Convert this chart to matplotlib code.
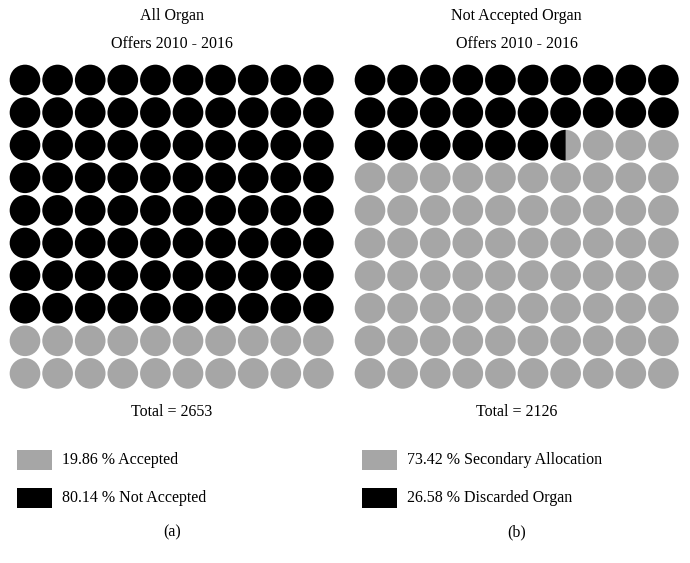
# Waffle charts: organ offers 2010 - 2016
import numpy as np
import matplotlib.pyplot as plt
from matplotlib.patches import Circle, Wedge, Rectangle

plt.rcParams['font.family'] = ['Liberation Serif', 'DejaVu Serif']

# ── Data ─────────────────────────────────────
titles = ["All Organ\nOffers 2010 - 2016", "Not Accepted Organ\nOffers 2010 - 2016"]
totals = [2653, 2126]
panel_tags = ["(a)", "(b)"]
black_pct = [80.14, 26.58]
gray_pct = [19.86, 73.42]
gray_labels = ["Accepted", "Secondary Allocation"]
black_labels = ["Not Accepted", "Discarded Organ"]

GRAY = "#a6a6a6"
BLACK = "#000000"
NROWS, NCOLS = 10, 10
R = 0.47


def draw_waffle(ax, pct_black):
    # black cells fill row by row from the top-left, partial cell rounded to half
    filled = np.round(pct_black * 2) / 2
    n_full = int(filled)
    half = filled - n_full > 0
    for k in range(NROWS * NCOLS):
        r, c = divmod(k, NCOLS)
        if k < n_full:
            ax.add_patch(Circle((c, r), R, color=BLACK, lw=0))
        elif k == n_full and half:
            ax.add_patch(Circle((c, r), R, color=GRAY, lw=0))
            ax.add_patch(Wedge((c, r), R, 90, 270, color=BLACK, lw=0))
        else:
            ax.add_patch(Circle((c, r), R, color=GRAY, lw=0))
    ax.set_xlim(-0.5, NCOLS - 0.5)
    ax.set_ylim(NROWS - 0.5, -0.5)
    ax.set_aspect("auto")
    ax.axis("off")


W, H = 690, 563
fig = plt.figure(figsize=(W / 100, H / 100), dpi=100)

grid_left = [8.7, 353.7]
grid_top = 63.7
cell = 32.6
size = cell * NCOLS

for i in range(2):
    x0 = grid_left[i]
    ax = fig.add_axes([x0 / W, 1 - (grid_top + size) / H, size / W, size / H])
    draw_waffle(ax, black_pct[i])

    cx = (x0 + size / 2) / W
    line1, line2 = titles[i].split("\n")
    fig.text(cx, 1 - 16.5 / H, line1, ha="center", va="center", fontsize=11.5)
    fig.text(cx, 1 - 44 / H, line2, ha="center", va="center", fontsize=11.5)
    fig.text(cx, 1 - 412 / H, f"Total = {totals[i]}", ha="center", va="center", fontsize=11.5)
    fig.text(cx, 1 - 532 / H, panel_tags[i], ha="center", va="center", fontsize=11.5)

    # legend
    px = x0 + 8.5
    for j, (col, pct, lab) in enumerate([(GRAY, gray_pct[i], gray_labels[i]),
                                         (BLACK, black_pct[i], black_labels[i])]):
        yc = 460 + j * 38
        fig.patches.append(Rectangle((px / W, 1 - (yc + 10) / H), 35 / W, 20 / H,
                                     transform=fig.transFigure, color=col, lw=0))
        fig.text((px + 45) / W, 1 - yc / H, f"{pct:.2f} % {lab}",
                 ha="left", va="center", fontsize=11.5)

fig.savefig("out.png", dpi=100)
